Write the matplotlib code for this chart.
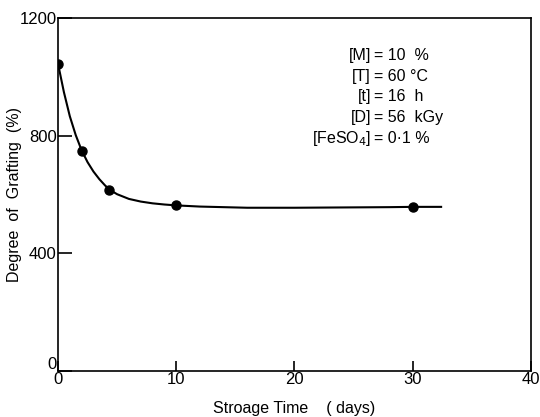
import matplotlib
matplotlib.use("Agg")
from matplotlib import pyplot as plt
from matplotlib.transforms import ScaledTranslation

plt.rcParams['font.family'] = ['Liberation Sans', 'DejaVu Sans']

# Measured points
storage_days = [0, 2, 4.3, 10, 30]
grafting = [1045, 749, 616, 564, 558]

# Smooth curve
curve_days = [0, 0.5, 1, 1.5, 2, 2.5, 3, 3.5, 4, 4.5, 5, 6, 7, 8, 9, 10,
              12, 14, 16, 18, 20, 24, 28, 30, 32.4]
curve_grafting = [1045, 948, 866, 802, 750, 710, 678, 652, 630, 613, 601, 585,
                  576, 570, 566, 563, 559, 557, 555, 555, 555, 556, 557, 558, 558]

x_ticks = [0, 10, 20, 30, 40]
y_ticks = [0, 400, 800, 1200]

conditions_lhs = ["[M]", "[T]", "[t]", "[D]", "[FeSO$_4$]"]
conditions_rhs = ["= 10  %", "= 60 °C", "= 16  h", "= 56  kGy", "= 0·1 %"]

fig = plt.figure(figsize=(5.4, 4.17), dpi=100)
ax = fig.add_axes([0.1074, 0.1103, 0.8759, 0.8465])

ax.plot(curve_days, curve_grafting, color='black', lw=1.5)
ax.plot(storage_days, grafting, 'o', color='black', ms=6.5)

ax.set_xlim(0, 40)
ax.set_ylim(0, 1200)
ax.set_xticks(x_ticks)
ax.set_yticks(y_ticks)
ax.tick_params(direction='in', labelsize=12, width=1.2, pad=1)
ax.tick_params(axis='x', length=7)
ax.tick_params(axis='y', length=10)
for s in ax.spines.values():
    s.set_linewidth(1.2)

# lift the y "0" a little so it does not sit on the x "0"
zero_lbl = ax.get_yticklabels()[0]
zero_lbl.set_transform(zero_lbl.get_transform() + ScaledTranslation(0, 6 / 72, fig.dpi_scale_trans))

ax.set_xlabel("Stroage Time    ( days)", fontsize=11.5, labelpad=10)
ax.set_ylabel("Degree  of  Grafting  (%)", fontsize=11.5)
ax.yaxis.set_label_coords(-0.076, 0.5)

for i, (lhs, rhs) in enumerate(zip(conditions_lhs, conditions_rhs)):
    yy = 0.894 - i * 0.0585
    ax.text(0.662, yy, lhs, transform=ax.transAxes, ha='right', va='center', fontsize=11.5)
    ax.text(0.668, yy, rhs, transform=ax.transAxes, ha='left', va='center', fontsize=11.5)

fig.savefig("out.png", dpi=100)
